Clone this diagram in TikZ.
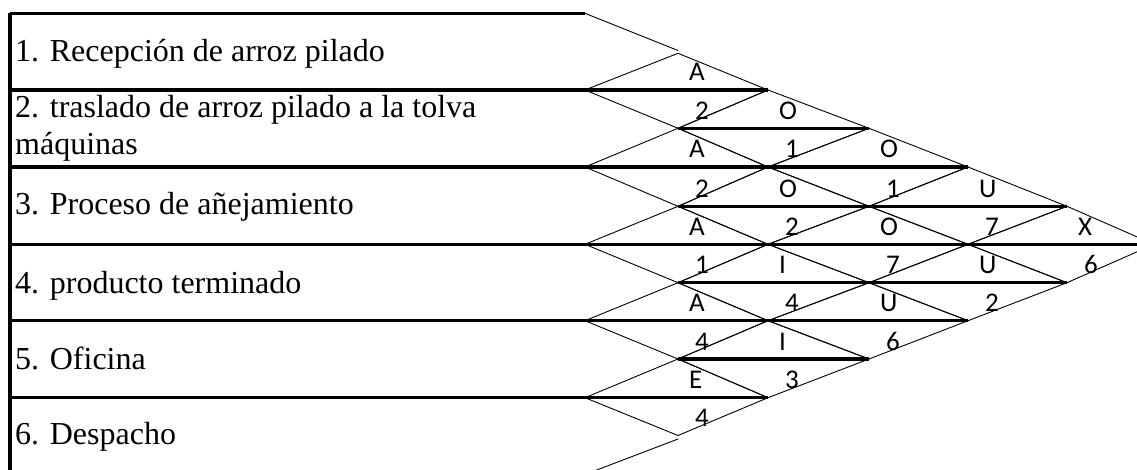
\documentclass[tikz,border=0pt]{standalone}
\usepackage{fontspec}
\setmainfont{Liberation Serif}
\newfontfamily\cellfont{Carlito}
\begin{document}
\begin{tikzpicture}[x=1pt,y=-1pt,
  thickrule/.style={line width=3.2pt},
  thinline/.style={line width=0.9pt},
  rowtext/.style={anchor=base west, inner sep=0pt, font=\fontsize{32}{38}\selectfont},
  celltext/.style={anchor=base west, inner sep=0pt, font=\cellfont\fontsize{27}{32}\selectfont}]
\useasboundingbox (0,0) rectangle (1137,470);
\clip (0,0) rectangle (1137,470);

% grid of diamond vertices: columns k, half-row levels m
\foreach \xv [count=\k from 0] in {585,678,768,869,968,1067,1154} {
  \foreach \yv [count=\m from 0] in {13.3,53.3,90,128.3,167,206.3,244.3,282.7,320.7,359,397.7,435.5,474.5} {
    \coordinate (v-\k-\m) at (\xv,\yv);
  }
}
% left edge of the table at every level
\foreach \yv [count=\m from 0] in {13.3,53.3,90,128.3,167,206.3,244.3,282.7,320.7,359,397.7,435.5,474.5} {
  \coordinate (c-\m) at (10,\yv);
}
\coordinate (tip-top) at (678,50.5);
\coordinate (tip-bot) at (678,439);

% one diamond per pair of activities: closeness letter above, reason below
\foreach \i/\j/\ltr/\num in {1/2/A/2,1/3/O/1,1/4/O/1,1/5/U/7,1/6/X/6,
                             2/3/A/2,2/4/O/2,2/5/O/7,2/6/U/2,
                             3/4/A/1,3/5/I/4,3/6/U/6,
                             4/5/A/4,4/6/I/3,
                             5/6/E/4} {
  \pgfmathtruncatemacro\k{\j-\i}
  \pgfmathtruncatemacro\kl{\k-1}
  \pgfmathtruncatemacro\kr{\k+1}
  \pgfmathtruncatemacro\m{\i+\j-1}
  \pgfmathtruncatemacro\mt{\m-1}
  \pgfmathtruncatemacro\mb{\m+1}
  \draw[thinline] (v-\kl-\m) -- (v-\k-\mt) -- (v-\kr-\m) -- (v-\k-\mb) -- cycle;
  \node[celltext, xshift=11pt, yshift=9pt] (r-\i-\j) at (v-\k-\m) {\ltr};
  \node[celltext, xshift=17pt, yshift=9pt] (n-\i-\j) at (v-\k-\mb) {\num};
}

% outer slanted edges at the first and last activity
\draw[thinline] (v-0-0) -- (tip-top);
\draw[thinline] (tip-bot) -- (v-0-12);

% heavy rules: row borders and diamond middles
\draw[thickrule] (c-0) -- (c-12);
\draw[thickrule] (c-0) -- (v-0-0);
\draw[thickrule] (c-2) -- (v-2-2);
\draw[thickrule] (c-4) -- (v-4-4);
\draw[thickrule] (c-6) -- (v-6-6);
\draw[thickrule] (c-8) -- (v-4-8);
\draw[thickrule] (c-10) -- (v-2-10);
\draw[thickrule] (c-12) -- (v-0-12);
\draw[thickrule] (v-1-3) -- (v-3-3);
\draw[thickrule] (v-1-5) -- (v-5-5);
\draw[thickrule] (v-1-7) -- (v-5-7);
\draw[thickrule] (v-1-9) -- (v-3-9);

% activity names
\node[rowtext] (row1) at (15,62) {1. Recepción de arroz pilado};
\node[rowtext] (row2a) at (15,118) {2. traslado de arroz pilado a la tolva};
\node[rowtext] (row2b) at (15,155) {máquinas};
\node[rowtext] (row3) at (15,215) {3. Proceso de añejamiento};
\node[rowtext] (row4) at (15,293) {4. producto terminado};
\node[rowtext] (row5) at (15,369) {5. Oficina};
\node[rowtext] (row6) at (15,444) {6. Despacho};
\end{tikzpicture}
\end{document}
